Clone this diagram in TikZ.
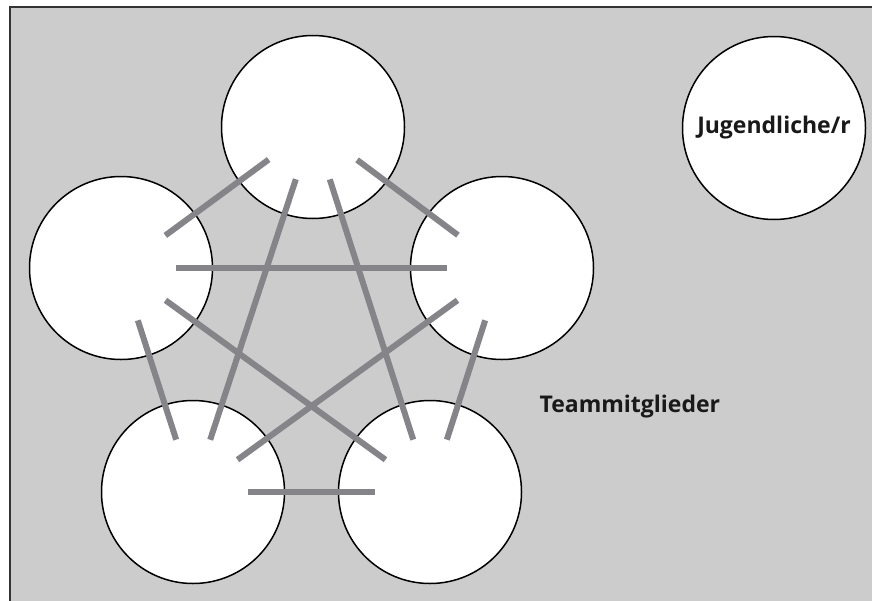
\documentclass[tikz,border=0pt]{standalone}
\usepackage{fontspec}
\setmainfont{Open Sans}
\begin{document}
\begin{tikzpicture}[x=1pt,y=-1pt,
  member/.style={circle,draw=black,line width=1.5pt,fill=white,minimum size=183pt,inner sep=0pt},
  link/.style={draw=linkgray,line width=6pt,shorten <=55pt,shorten >=55pt},
  label/.style={font=\bfseries\fontsize{23}{27}\selectfont,text=black!90}]
\definecolor{bggray}{RGB}{204,204,204}
\definecolor{linkgray}{RGB}{133,133,137}
\useasboundingbox (0,0) rectangle (872,600);
\fill[bggray] (10,7) rectangle (880,610);
\draw[line width=1.5pt,black!80] (10,610) -- (10,7) -- (880,7);
\node[member] (t) at (313,127) {};
\node[member] (l) at (121,268) {};
\node[member] (r) at (502,268) {};
\node[member] (bl) at (193,492) {};
\node[member] (br) at (430,492) {};
\node[member] (j) at (774,128) {};
\node[label] (jt) at (j.center) {Jugendliche/r};
\foreach \a/\b in {t/l,t/r,t/bl,t/br,l/r,l/bl,l/br,r/bl,r/br,bl/br}
  \path[link] (\a.center) -- (\b.center);
\node[label,anchor=base west] (tm) at (536,412) {Teammitglieder};
\end{tikzpicture}
\end{document}
